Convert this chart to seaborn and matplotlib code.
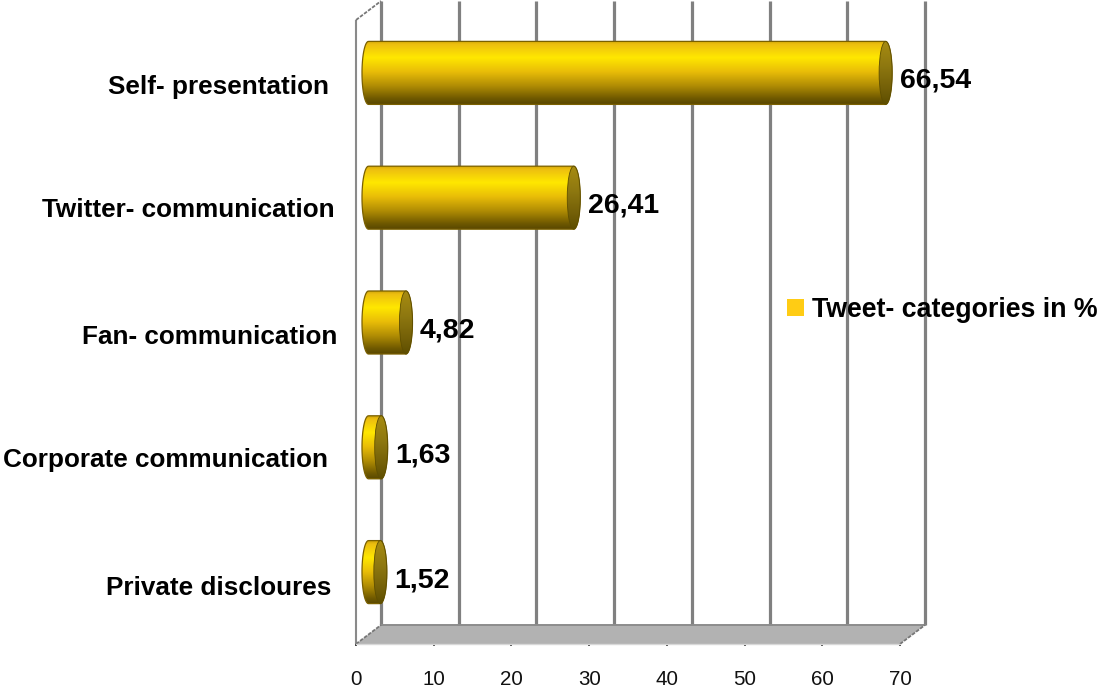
import numpy as np
import pandas as pd
import matplotlib
matplotlib.use("Agg")
import matplotlib.pyplot as plt
import seaborn as sns
from matplotlib.colors import LinearSegmentedColormap
from matplotlib.patches import Ellipse, PathPatch, Polygon
from matplotlib.path import Path
from matplotlib.transforms import Affine2D, IdentityTransform

categories = ["Self- presentation", "Twitter- communication", "Fan- communication",
              "Corporate communication", "Private discloures"]
shares = [66.54, 26.41, 4.82, 1.63, 1.52]
x_ticks = [0, 10, 20, 30, 40, 50, 60, 70]
series_name = "Tweet- categories in %"

W, H, DPI = 1099, 690, 100
LEFT, RIGHT, TOP, BOTTOM = 356, 900, 20, 644   # front plane of the 3D box, px
DEPTH_X, DEPTH_Y = 25, 19                      # box depth, px
GRID = "#808080"
FONT = "Liberation Sans"

sns.set_theme(style="white")
plt.rcParams["font.family"] = [FONT, "DejaVu Sans"]

fig = plt.figure(figsize=(W / DPI, H / DPI), dpi=DPI, facecolor="white")
ax = fig.add_axes([LEFT / W, 1 - BOTTOM / H, (RIGHT - LEFT) / W, (BOTTOM - TOP) / H])

df = pd.DataFrame({"category": categories, "share": shares})
sns.barplot(data=df, y="category", x="share", orient="h", color="#FFCC14", saturation=1,
            width=0.505, label=series_name, ax=ax, legend=False, zorder=3)
ax.set_xlim(0, 70)
ax.set_ylim(4.5, -0.5)
ax.set_xlabel("")
ax.set_ylabel("")
sns.despine(ax=ax, left=True, bottom=True, right=True, top=True)
ax.patch.set_alpha(0)

# Depth shifts in display space: back wall and the mid-depth plane holding the bars
back = ax.transData + Affine2D().translate(DEPTH_X, DEPTH_Y)
mid = ax.transData + Affine2D().translate(DEPTH_X / 2, DEPTH_Y / 2)

# Floor of the box
px = lambda x, y: (x, H - y)
floor = Polygon([px(LEFT, BOTTOM), px(RIGHT, BOTTOM),
                 px(RIGHT + DEPTH_X, BOTTOM - DEPTH_Y), px(LEFT + DEPTH_X, BOTTOM - DEPTH_Y)],
                closed=True, transform=IdentityTransform(), facecolor="#B2B2B2",
                edgecolor="none", clip_on=False, zorder=1)
ax.add_patch(floor)

# Back-wall gridlines and box edges
ax.vlines(x_ticks, 4.5, -0.5, transform=back, colors=GRID, linewidth=2.3,
          clip_on=False, zorder=1.5)
ax.plot([0, 70], [4.5, 4.5], transform=back, color="#8C8C8C", lw=1.4, clip_on=False, zorder=1.6)
ax.vlines([0], 4.5, -0.5, colors="#8A8A8A", linewidth=1.5, clip_on=False, zorder=1.6)
edges = [((LEFT, BOTTOM), (LEFT + DEPTH_X, BOTTOM - DEPTH_Y)),
         ((RIGHT, BOTTOM), (RIGHT + DEPTH_X, BOTTOM - DEPTH_Y)),
         ((LEFT, TOP), (LEFT + DEPTH_X, TOP - DEPTH_Y))]
for a, b in edges:
    ax.plot(*zip(px(*a), px(*b)), transform=IdentityTransform(), color="#777777", lw=1.3,
            ls=(0, (2, 0.8)), clip_on=False, zorder=1.6)
ax.plot([0, 70], [4.5, 4.5], color="#D8D8D8", lw=1.0, clip_on=False, zorder=1.6)

# Cylinders: each bar gets a vertical metallic gradient clipped to a rounded outline
body_cmap = LinearSegmentedColormap.from_list(
    "body", [(0, "#C9A008"), (0.06, "#EDBE10"), (0.27, "#FFE800"), (0.5, "#E8BC08"),
             (0.72, "#B08C04"), (0.92, "#6E5800"), (1, "#5A4800")])
cap_cmap = LinearSegmentedColormap.from_list(
    "cap", [(0, "#A88C10"), (0.4, "#8E7810"), (0.75, "#746008"), (1, "#5E4E00")])
ramp = np.linspace(0, 1, 128)[:, None]
cap_rx = 6.5 / ((RIGHT - LEFT) / 70)

for bar in list(ax.patches):
    if bar is floor:
        continue
    bar.set_transform(mid)
    bar.set_edgecolor("none")
    x0, x1 = bar.get_x(), bar.get_x() + bar.get_width()
    y0, y1 = bar.get_y(), bar.get_y() + bar.get_height()
    yc, ry = (y0 + y1) / 2, (y1 - y0) / 2

    t = np.linspace(-np.pi / 2, np.pi / 2, 40)
    left_arc = np.column_stack([x0 - cap_rx * np.cos(t), yc + ry * np.sin(t)])
    right_arc = np.column_stack([x1 + cap_rx * np.cos(t[::-1]), yc + ry * np.sin(t[::-1])])
    verts = np.vstack([left_arc, right_arc, left_arc[:1]])
    outline = Path(verts)

    img = ax.imshow(ramp, cmap=body_cmap, aspect="auto", interpolation="bilinear",
                    extent=(x0 - cap_rx, x1 + cap_rx, y1, y0), origin="upper",
                    transform=mid, zorder=3.1, clip_on=True)
    img.set_clip_path(outline, mid)
    ax.add_patch(PathPatch(outline, transform=mid, facecolor="none", edgecolor="#7A6000",
                           lw=0.9, zorder=3.2, clip_on=False))

    cap = Ellipse((x1, yc), 2 * cap_rx, 2 * ry, transform=mid, facecolor="none",
                  edgecolor="#5E4E00", lw=0.6, zorder=3.4, clip_on=False)
    ax.add_patch(cap)
    cap_img = ax.imshow(ramp, cmap=cap_cmap, aspect="auto", interpolation="bilinear",
                        extent=(x1 - cap_rx, x1 + cap_rx, y1, y0), origin="upper",
                        transform=mid, zorder=3.3)
    cap_img.set_clip_path(Path(np.column_stack([x1 + cap_rx * np.cos(2 * t), yc + ry * np.sin(2 * t)])), mid)

ax.set_xlim(0, 70)
ax.set_ylim(4.5, -0.5)

# Value labels
for i, v in enumerate(shares):
    ax.annotate(f"{v:.2f}".replace(".", ","), xy=(v, i), xytext=(DEPTH_X / 2 + 14, 1.5),
                textcoords="offset pixels", ha="left", va="center", fontsize=20.5,
                fontweight="bold", color="black", zorder=5, annotation_clip=False)

# Axis ticks
ax.set_xticks(x_ticks)
ax.set_xticklabels([str(t) for t in x_ticks], fontsize=14.8, color="#111111")
ax.tick_params(axis="x", length=1.5, width=1.2, color="#222222", pad=17, bottom=True)
ax.tick_params(axis="y", length=0, pad=0)

label_nudges = [(-27, -2), (-21, 0), (-19, -2), (-28, -1), (-25, -4)]
for label, (dx, dy) in zip(ax.get_yticklabels(), label_nudges):
    label.set_fontsize(18.8)
    label.set_fontweight("bold")
    label.set_color("black")
    label.set_transform(label.get_transform() + Affine2D().translate(dx, dy))

# Legend beside the plot
handles, labels = ax.get_legend_handles_labels()
legend = ax.legend(handles, labels, loc="center left", frameon=False,
                   prop={"family": FONT, "weight": "bold", "size": 19.3},
                   labelcolor="black",
                   bbox_to_anchor=(782 / W, 1 - 310 / H), bbox_transform=fig.transFigure,
                   handlelength=0.62, handleheight=0.62, handletextpad=0.3, borderpad=0.2,
                   borderaxespad=0)
legend.set_zorder(6)

fig.savefig("out.png", dpi=DPI, facecolor="white")
